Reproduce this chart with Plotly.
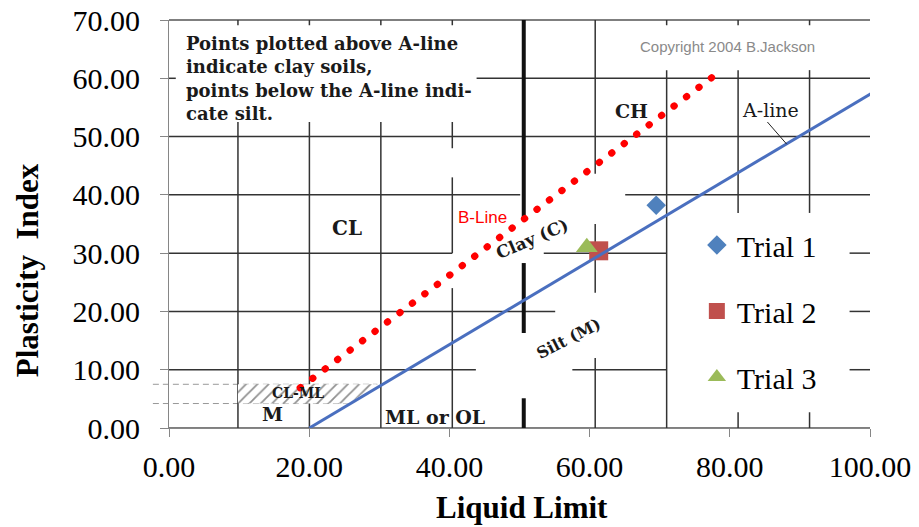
import plotly.graph_objects as go

# ---- Trial results: Liquid Limit (LL) vs Plasticity Index (PI) ----
trial_names = ["Trial 1", "Trial 2", "Trial 3"]
trial_ll = [69.5, 61.3, 59.6]
trial_pi = [38.2, 30.4, 31.0]
trial_colors = ["#4F81BD", "#C0504D", "#9BBB59"]
trial_symbols = ["diamond", "square", "triangle-up"]
trial_sizes = [15, 19, 19]

# ---- Axis ticks ----
x_ticks = [0, 20, 40, 60, 80, 100]
y_ticks = [0, 10, 20, 30, 40, 50, 60, 70]

# ---- Casagrande chart drawn behind the trials (own LL scale on axis x2) ----
bg_ll_range = [0.35, 98.46]
a_line_ll = [20, 100]
a_line_pi = [0, 58.4]
b_line_ll = [18.7, 76.3]
b_line_pi = [6.9, 60.1]
clml_ll = [10, 10, 29.5, 25.5]
clml_pi = [4.2, 7.5, 7.5, 4.2]
clml_edges = [(7.5, 29.5), (4.2, 25.5)]   # (PI, LL where the dashed edge stops)

# horizontal chart lines: PI level -> LL spans
h_grid = {
    60: [(0, 1.3), (43.4, 100)],
    50: [(0, 100)],
    40: [(0, 49.5), (64.2, 100)],
    30: [(0, 40.0), (52.8, 70.0), (95.6, 100)],
    20: [(0, 54.4), (95.6, 100)],
    10: [(0, 43.3), (56.8, 70.0), (95.6, 100)],
}
# vertical chart lines: LL level -> PI spans
v_grid = {
    10: [(0, 52.5), (69.1, 70)],
    20: [(0, 52.5), (69.1, 70)],
    30: [(0, 52.5), (69.1, 70)],
    40: [(0, 24.0), (30.0, 43.0), (48.0, 52.5), (69.1, 70)],
    60: [(0, 12.0), (23.2, 35.0), (43.6, 70)],
    70: [(0, 61.4), (69.1, 70)],
    80: [(0, 2.7), (36.9, 61.4), (69.1, 70)],
    90: [(0, 2.7), (36.9, 61.4), (69.1, 70)],
}
# the heavy LL = 50 divider
ll50_spans = [(0, 5.1), (16.3, 28.3), (35.7, 70)]

# chart zone labels: (text, LL, PI, angle, size, weight)
zone_labels = [
    ("CH", 65.1, 54.4, 0, 19, "bold"),
    ("CL", 25.2, 34.4, 0, 20, "bold"),
    ("Clay (C)", 51.1, 32.4, -23, 17, "bold"),
    ("Silt (M)", 56.3, 15.3, -27, 16, "bold"),
    ("M", 14.9, 2.35, 0, 19, "bold"),
    ("CL-ML", 18.4, 5.95, 0, 14, "bold"),
    ("ML or OL", 37.6, 1.9, 0, 19, "bold"),
    ("A-line", 84.5, 54.5, 0, 19, "normal"),
]
a_label_leader = [(84.1, 52.5), (86.8, 48.7)]
note_text = ("Points plotted above A-line<br>indicate clay soils,<br>"
             "points below the A-line indi-<br>cate silt.")

GRID = "#333333"
SERIF = "Liberation Serif"
BGSERIF = "DejaVu Serif"

fig = go.Figure()

# hatched CL-ML band
fig.add_trace(go.Scatter(
    x=clml_ll, y=clml_pi, xaxis="x2", yaxis="y", mode="lines",
    fill="toself", fillcolor="white", line=dict(width=0),
    fillpattern=dict(shape="/", fgcolor="#222222", bgcolor="white", size=8, solidity=0.22),
    showlegend=False, hoverinfo="skip"))

# A-line
fig.add_trace(go.Scatter(
    x=a_line_ll, y=a_line_pi, xaxis="x2", yaxis="y", mode="lines",
    line=dict(color="#4A6FBF", width=3), showlegend=False, hoverinfo="skip"))

# B-line (dotted red)
fig.add_trace(go.Scatter(
    x=b_line_ll, y=b_line_pi, xaxis="x2", yaxis="y", mode="lines", uid="bline",
    line=dict(color="#FF0000", width=7, dash="0.5px,15.1px"),
    showlegend=False, hoverinfo="skip"))

# trials
for name, lx, py, col, sym, sz in zip(trial_names, trial_ll, trial_pi,
                                      trial_colors, trial_symbols, trial_sizes):
    fig.add_trace(go.Scatter(
        x=[lx], y=[py], mode="markers", name=name, legendgroup=name,
        marker=dict(color=col, symbol=sym, size=sz, line=dict(width=0))))

shapes = []
for pi, spans in h_grid.items():
    for a, b in spans:
        shapes.append(dict(type="line", xref="x2", yref="y", x0=a, x1=b, y0=pi, y1=pi,
                           line=dict(color=GRID, width=1.5), layer="below"))
for ll, spans in v_grid.items():
    for a, b in spans:
        shapes.append(dict(type="line", xref="x2", yref="y", x0=ll, x1=ll, y0=a, y1=b,
                           line=dict(color=GRID, width=1.5), layer="below"))
for a, b in ll50_spans:
    shapes.append(dict(type="line", xref="x2", yref="y", x0=50, x1=50, y0=a, y1=b,
                       line=dict(color="#111111", width=4), layer="below"))

# chart frame top / bottom
for yy in (0, 1):
    shapes.append(dict(type="line", xref="paper", yref="paper", x0=0, x1=1, y0=yy, y1=yy,
                       line=dict(color="#555555", width=1.5), layer="below"))

# CL-ML dashed edges, starting just left of the axis
def bg_to_paper(v):
    return (v - bg_ll_range[0]) / (bg_ll_range[1] - bg_ll_range[0])

for pi, ll_end in clml_edges:
    shapes.append(dict(type="line", xref="paper", yref="y domain",
                       x0=-0.023, x1=bg_to_paper(ll_end), y0=pi / 70, y1=pi / 70,
                       line=dict(color="#999999", width=1, dash="6px,4px"), layer="below"))

# leader from the "A-line" label
shapes.append(dict(type="line", xref="x2", yref="y",
                   x0=a_label_leader[0][0], y0=a_label_leader[0][1],
                   x1=a_label_leader[1][0], y1=a_label_leader[1][1],
                   line=dict(color="#222222", width=1)))

annotations = []
for txt, lx, py, ang, sz, wt in zone_labels:
    annotations.append(dict(text=txt, xref="x2", yref="y", x=lx, y=py, showarrow=False,
                            xanchor="center", yanchor="middle", textangle=ang,
                            font=dict(family=BGSERIF, size=sz, color="#1a1a1a", weight=wt)))
annotations.append(dict(text=note_text, xref="x2", yref="y", x=2.45, y=68.1,
                        xanchor="left", yanchor="top", align="left", showarrow=False,
                        font=dict(family=BGSERIF, size=18, color="#1a1a1a", weight="bold")))
annotations.append(dict(text="Copyright 2004 B.Jackson", xref="x2", yref="y", x=78.46, y=65.4,
                        xanchor="center", yanchor="middle", showarrow=False,
                        font=dict(family="Liberation Sans", size=15, color="#8a8a8a")))
annotations.append(dict(text="B-Line", xref="x2", yref="y", x=44.2, y=36.2,
                        xanchor="center", yanchor="middle", showarrow=False,
                        font=dict(family="Liberation Sans", size=17, color="#FF0000")))
# axis titles
annotations.append(dict(text="Plasticity  Index", xref="paper", yref="paper",
                        x=-0.2024, y=0.387, xanchor="center", yanchor="middle",
                        textangle=-90, showarrow=False,
                        font=dict(family=SERIF, size=31, color="black", weight="bold")))
annotations.append(dict(text="Liquid Limit", xref="paper", yref="paper",
                        x=0.503, y=-0.194, xanchor="center", yanchor="middle", showarrow=False,
                        font=dict(family=SERIF, size=31, color="black", weight="bold")))

axis_common = dict(showgrid=False, zeroline=False, showline=True, linecolor="#868686",
                   linewidth=1, ticks="outside", ticklen=8, tickcolor="#868686",
                   automargin=False, tickformat=".2f",
                   tickfont=dict(family=SERIF, size=30, color="black"))

fig.update_layout(
    width=919, height=527,
    margin=dict(l=169, r=48.5, t=20, b=99, autoexpand=False),
    paper_bgcolor="white", plot_bgcolor="white",
    xaxis=dict(range=[0, 100], tickvals=x_ticks, ticklabelstandoff=4, **axis_common),
    xaxis2=dict(range=bg_ll_range, overlaying="x", visible=False, automargin=False),
    yaxis=dict(range=[0, 70], tickvals=y_ticks, ticklabelstandoff=14, **axis_common),
    shapes=shapes,
    annotations=annotations,
    showlegend=True,
    legend=dict(x=0.753, xanchor="left", y=0.512, yanchor="top",
                bgcolor="rgba(0,0,0,0)", tracegroupgap=24,
                font=dict(family=SERIF, size=30, color="black")),
)

round_dots = ("document.querySelectorAll('.tracebline path.js-line')"
              ".forEach(function(p){p.style.strokeLinecap='round';});")
fig.write_html("out.html", post_script=round_dots)
